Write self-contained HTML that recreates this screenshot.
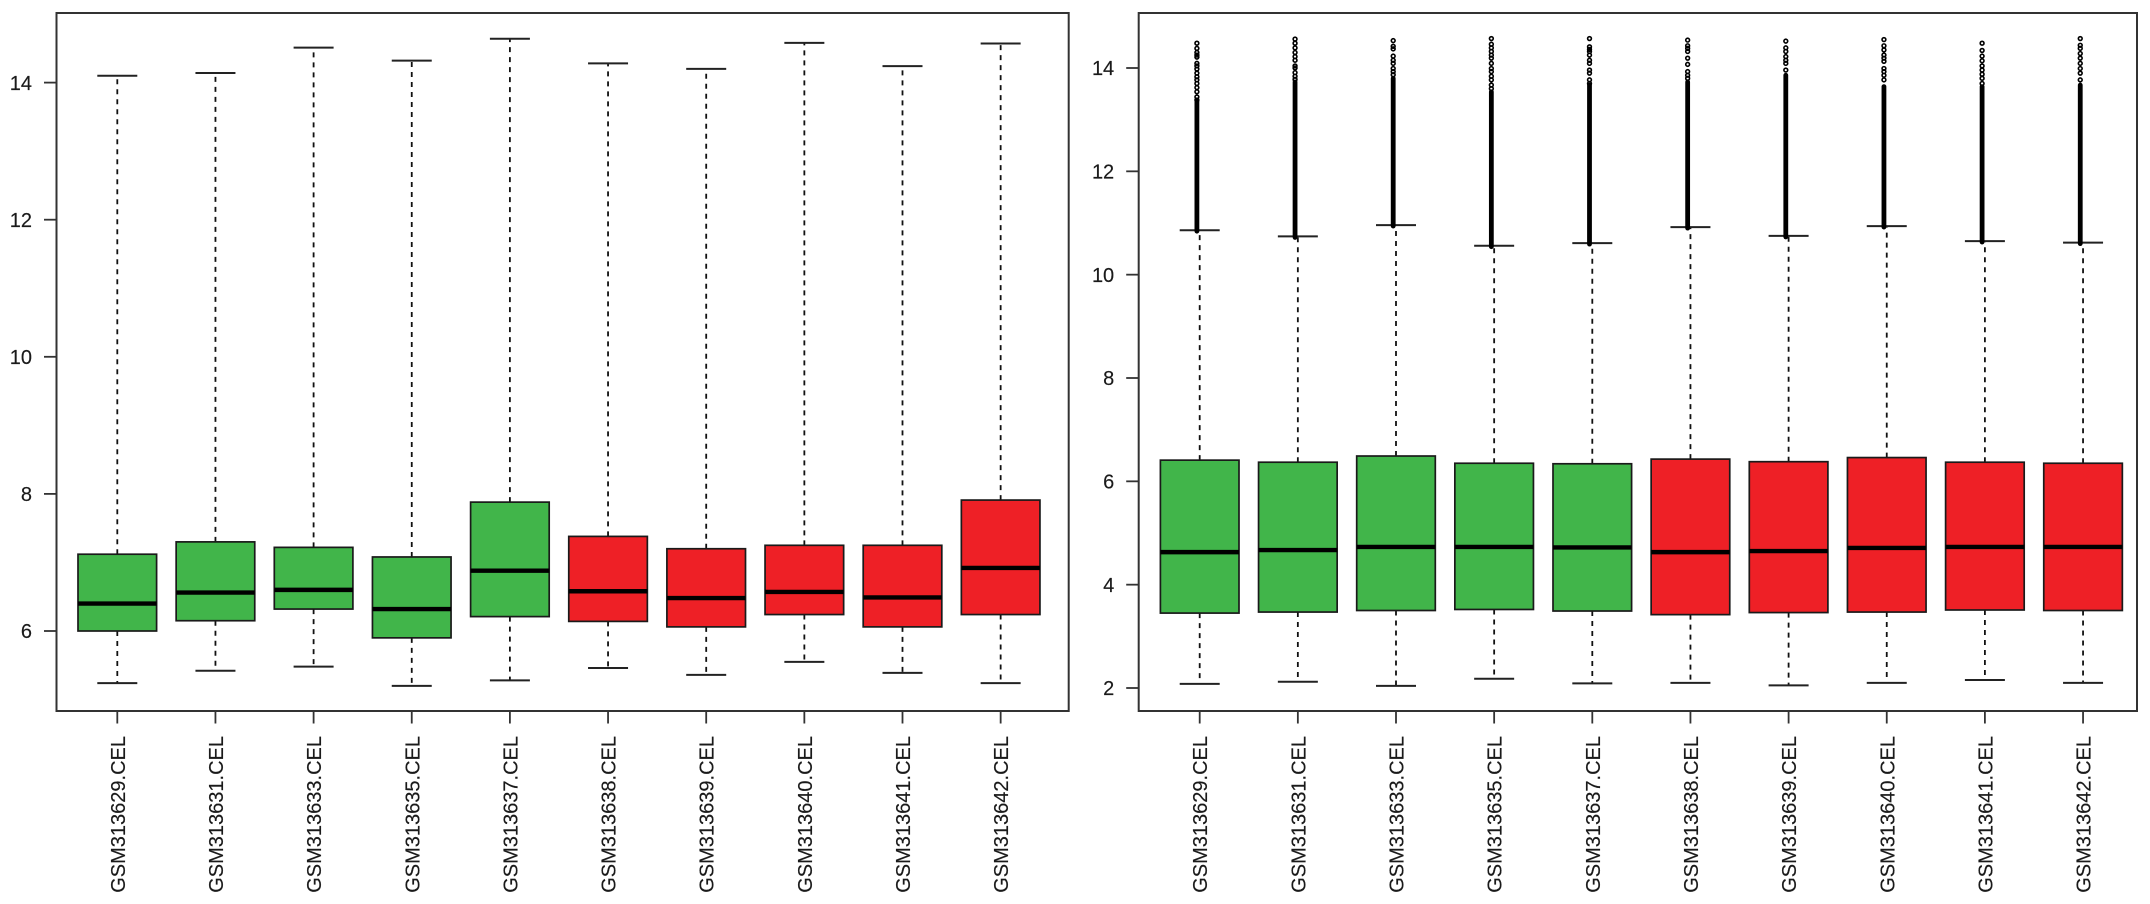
<!DOCTYPE html>
<html lang="en">
<head>
<meta charset="utf-8">
<title>Boxplots of GSM313629–GSM313642 intensities</title>
<style>
html,body{margin:0;padding:0;background:#fff;width:2150px;height:904px;overflow:hidden}
svg{display:block}
text{font-family:"Liberation Sans",Arial,sans-serif;font-size:20px;fill:#1a1a1a;stroke:#1a1a1a;stroke-width:0.15px}
</style>
</head>
<body>
<svg id="chart" xmlns="http://www.w3.org/2000/svg" width="2150" height="904" viewBox="0 0 2150 904"></svg>
<script>
const categories = ["GSM313629.CEL","GSM313631.CEL","GSM313633.CEL","GSM313635.CEL","GSM313637.CEL","GSM313638.CEL","GSM313639.CEL","GSM313640.CEL","GSM313641.CEL","GSM313642.CEL"];
const groups = ["green","green","green","green","green","red","red","red","red","red"];

const leftTicks = [6,8,10,12,14];
const leftWhiskerHigh = [14.10,14.14,14.51,14.32,14.64,14.28,14.20,14.58,14.24,14.57];
const leftQ3 = [7.12,7.30,7.22,7.08,7.88,7.38,7.20,7.25,7.25,7.91];
const leftMedian = [6.40,6.56,6.60,6.32,6.88,6.58,6.48,6.57,6.49,6.92];
const leftQ1 = [6.00,6.15,6.32,5.90,6.21,6.14,6.06,6.24,6.06,6.24];
const leftWhiskerLow = [5.24,5.42,5.48,5.20,5.28,5.46,5.36,5.55,5.39,5.24];

const rightTicks = [2,4,6,8,10,12,14];
const rightWhiskerHigh = [10.86,10.74,10.96,10.56,10.61,10.92,10.75,10.94,10.65,10.62];
const rightQ3 = [6.41,6.37,6.49,6.35,6.34,6.43,6.38,6.46,6.37,6.35];
const rightMedian = [4.63,4.67,4.73,4.73,4.72,4.63,4.65,4.71,4.73,4.73];
const rightQ1 = [3.45,3.47,3.50,3.52,3.49,3.42,3.46,3.47,3.51,3.50];
const rightWhiskerLow = [2.08,2.12,2.04,2.18,2.09,2.10,2.05,2.10,2.155,2.10];
const rightDenseTop = [13.35,13.73,13.80,13.54,13.67,13.73,13.86,13.64,13.64,13.67];
const rightOutliers = [
  [14.48,14.38,14.30,14.25,14.21,14.09,14.04,13.98,13.90,13.83,13.77,13.70,13.62,13.54,13.44,13.38],
  [14.56,14.48,14.39,14.30,14.22,14.15,14.04,14.00,13.91,13.84,13.78],
  [14.53,14.42,14.37,14.23,14.15,14.09,13.99,13.93,13.87],
  [14.57,14.46,14.39,14.32,14.25,14.19,14.09,13.99,13.93,13.84,13.77,13.67,13.60],
  [14.57,14.41,14.36,14.32,14.25,14.15,14.09,13.96,13.90,13.77,13.70],
  [14.54,14.43,14.38,14.32,14.19,14.07,13.93,13.86,13.80],
  [14.52,14.39,14.32,14.22,14.15,14.09,13.96],
  [14.55,14.43,14.35,14.25,14.19,14.13,13.99,13.93,13.86,13.77],
  [14.48,14.34,14.23,14.14,14.04,13.96,13.88,13.80,13.70],
  [14.57,14.44,14.38,14.28,14.19,14.09,13.99,13.90,13.77]
];

const NS = "http://www.w3.org/2000/svg";
const root = document.getElementById("chart");
const fills = {green:"#41b54a", red:"#ee2026"};

function make(tag, parent, props) {
  const el = document.createElementNS(NS, tag);
  for (const k in props) el.setAttribute(k, props[k]);
  parent.appendChild(el);
  return el;
}

function linearScale(v0, p0, v1, p1) {
  return v => p0 + (v - v0) * (p1 - p0) / (v1 - v0);
}

function drawPanel(cfg) {
  const g = make("g", root, {});
  
  
  const x = i => cfg.x0 + i * 98.15;
  const y = cfg.y;

  const frame = make("rect", g, {x:cfg.left, y:13, width:cfg.right-cfg.left, height:698, fill:"none", stroke:"#333", "stroke-width":2});
  
  

  cfg.ticks.forEach(t => {
    const tick = make("line", g, {x1:cfg.left-12.5, x2:cfg.left, y1:y(t), y2:y(t), stroke:"#333", "stroke-width":1.8});
    
    
    const label = make("text", g, {x:cfg.left-24.5, y:y(t)+7.2, "text-anchor":"end"});
    label.textContent = t;
    
    
  });

  categories.forEach((c, i) => {
    const cx = x(i);
    const box = make("g", g, {});
    
    

    const wu = make("line", box, {x1:cx, x2:cx, y1:y(cfg.q3[i]), y2:y(cfg.high[i]), stroke:"#111", "stroke-width":1.8, "stroke-dasharray":"5 5"});
    
    
    const wl = make("line", box, {x1:cx, x2:cx, y1:y(cfg.q1[i]), y2:y(cfg.low[i]), stroke:"#111", "stroke-width":1.8, "stroke-dasharray":"5 5"});
    
    

    const capHigh = make("line", box, {x1:cx-20, x2:cx+20, y1:y(cfg.high[i]), y2:y(cfg.high[i]), stroke:"#222", "stroke-width":2});
    
    
    const capLow = make("line", box, {x1:cx-20, x2:cx+20, y1:y(cfg.low[i]), y2:y(cfg.low[i]), stroke:"#222", "stroke-width":2});
    
    

    const rect = make("rect", box, {x:cx-39.3, y:y(cfg.q3[i]), width:78.6, height:y(cfg.q1[i])-y(cfg.q3[i]), fill:fills[groups[i]], stroke:"#1a1a1a", "stroke-width":1.7});
    
    

    const med = make("line", box, {x1:cx-39.3, x2:cx+39.3, y1:y(cfg.median[i]), y2:y(cfg.median[i]), stroke:"#000", "stroke-width":4.4});
    
    

    if (cfg.outliers) {
      const ox = cx - 2.8;
      const dense = make("line", box, {x1:ox, x2:ox, y1:y(cfg.high[i])+1, y2:y(cfg.dense[i]), stroke:"#000", "stroke-width":4.8, "stroke-linecap":"round"});
      
      
      cfg.outliers[i].forEach(v => {
        const pt = make("circle", box, {cx:ox, cy:y(v), r:1.9, fill:"none", stroke:"#000", "stroke-width":1.6});
        
        
      });
    }

    const xt = make("line", g, {x1:cx, x2:cx, y1:711, y2:723.5, stroke:"#333", "stroke-width":1.8});
    
    
    const xl = make("text", g, {transform:"translate(" + (cx+7.5) + ",736) rotate(-90)", "text-anchor":"end"});
    xl.textContent = c;
    
    
  });
}

drawPanel({
  name:"left-boxplot-panel", left:56.5, right:1068.7, x0:117.3,
  y:linearScale(6, 631, 14, 82.6), ticks:leftTicks,
  high:leftWhiskerHigh, q3:leftQ3, median:leftMedian, q1:leftQ1, low:leftWhiskerLow
});
drawPanel({
  name:"right-boxplot-panel", left:1138.7, right:2137, x0:1199.7,
  y:linearScale(2, 688, 14, 68), ticks:rightTicks,
  high:rightWhiskerHigh, q3:rightQ3, median:rightMedian, q1:rightQ1, low:rightWhiskerLow,
  dense:rightDenseTop, outliers:rightOutliers
});
</script>
</body>
</html>
